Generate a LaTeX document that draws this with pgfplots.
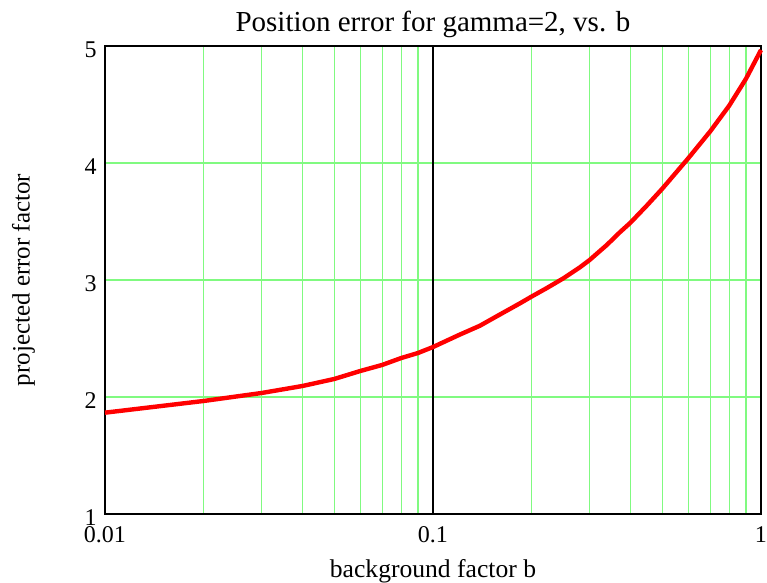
\documentclass[border=0pt]{standalone}
\usepackage{fontspec}
\setmainfont{Liberation Serif}
\usepackage{pgfplots}
\pgfplotsset{compat=1.18}
\definecolor{gridgreen}{RGB}{128,250,128}
\begin{document}
\begin{tikzpicture}
\begin{axis}[
  scale only axis,
  width=328pt, height=234pt,
  xmode=log, log basis x=10,
  xmin=0.01, xmax=1, ymin=1, ymax=5,
  xtick={0.01,0.1,1}, xticklabels={0.01,0.1,1},
  ytick={1,2,3,4,5}, yticklabels={1,2,3,4,5},
  minor xtick={0.02,0.03,0.04,0.05,0.06,0.07,0.08,0.09,0.2,0.3,0.4,0.5,0.6,0.7,0.8,0.9},
  major tick length=0pt, minor tick length=0pt,
  xmajorgrids, xminorgrids, ymajorgrids,
  major grid style={draw=gridgreen, line width=0.6pt},
  minor grid style={draw=gridgreen, line width=0.6pt},
  axis line style={line width=1.1pt, black},
  tick label style={font=\fontsize{12}{14}\selectfont},
  xticklabel style={anchor=north, inner sep=0pt, yshift=-6pt},
  yticklabel style={anchor=east, inner sep=0pt, xshift=-4pt, yshift=-2pt},
  title={Position error for gamma=2, vs. b},
  title style={font=\fontsize{14.5}{17}\selectfont, at={(axis description cs:0.5,1)}, anchor=base, inner sep=0pt, yshift=1pt},
  xlabel={background factor b},
  every axis x label/.style={at={(axis description cs:0.5,0)}, anchor=base, inner sep=0pt, yshift=-32pt, font=\fontsize{12.8}{15}\selectfont},
  ylabel={projected error factor},
  every axis y label/.style={at={(axis description cs:0,0.5)}, anchor=center, inner sep=0pt, xshift=-40.75pt, rotate=90, font=\fontsize{12.5}{15}\selectfont},
  clip=false,
]
\addplot[black, line width=1.1pt, forget plot] coordinates {(0.1,1) (0.1,5)};
\addplot[red, line width=2.2pt, line join=round] coordinates {
(0.01,1.866)
(0.02,1.966)
(0.03,2.034)
(0.04,2.094)
(0.05,2.154)
(0.06,2.222)
(0.07,2.274)
(0.08,2.333)
(0.09,2.376)
(0.1,2.427)
(0.12,2.53)
(0.139,2.609)
(0.156,2.688)
(0.184,2.80)
(0.2,2.859)
(0.222,2.93)
(0.25,3.015)
(0.281,3.11)
(0.3,3.17)
(0.339,3.30)
(0.372,3.41)
(0.4,3.49)
(0.45,3.64)
(0.5,3.78)
(0.6,4.04)
(0.7,4.27)
(0.8,4.49)
(0.9,4.72)
(1,4.966)
};
\end{axis}
\pgfresetboundingbox
\path[use as bounding box] ([xshift=-52.5pt,yshift=-34.5pt]current axis.south west) rectangle ([xshift=3pt,yshift=23pt]current axis.north east);
\end{tikzpicture}
\end{document}
